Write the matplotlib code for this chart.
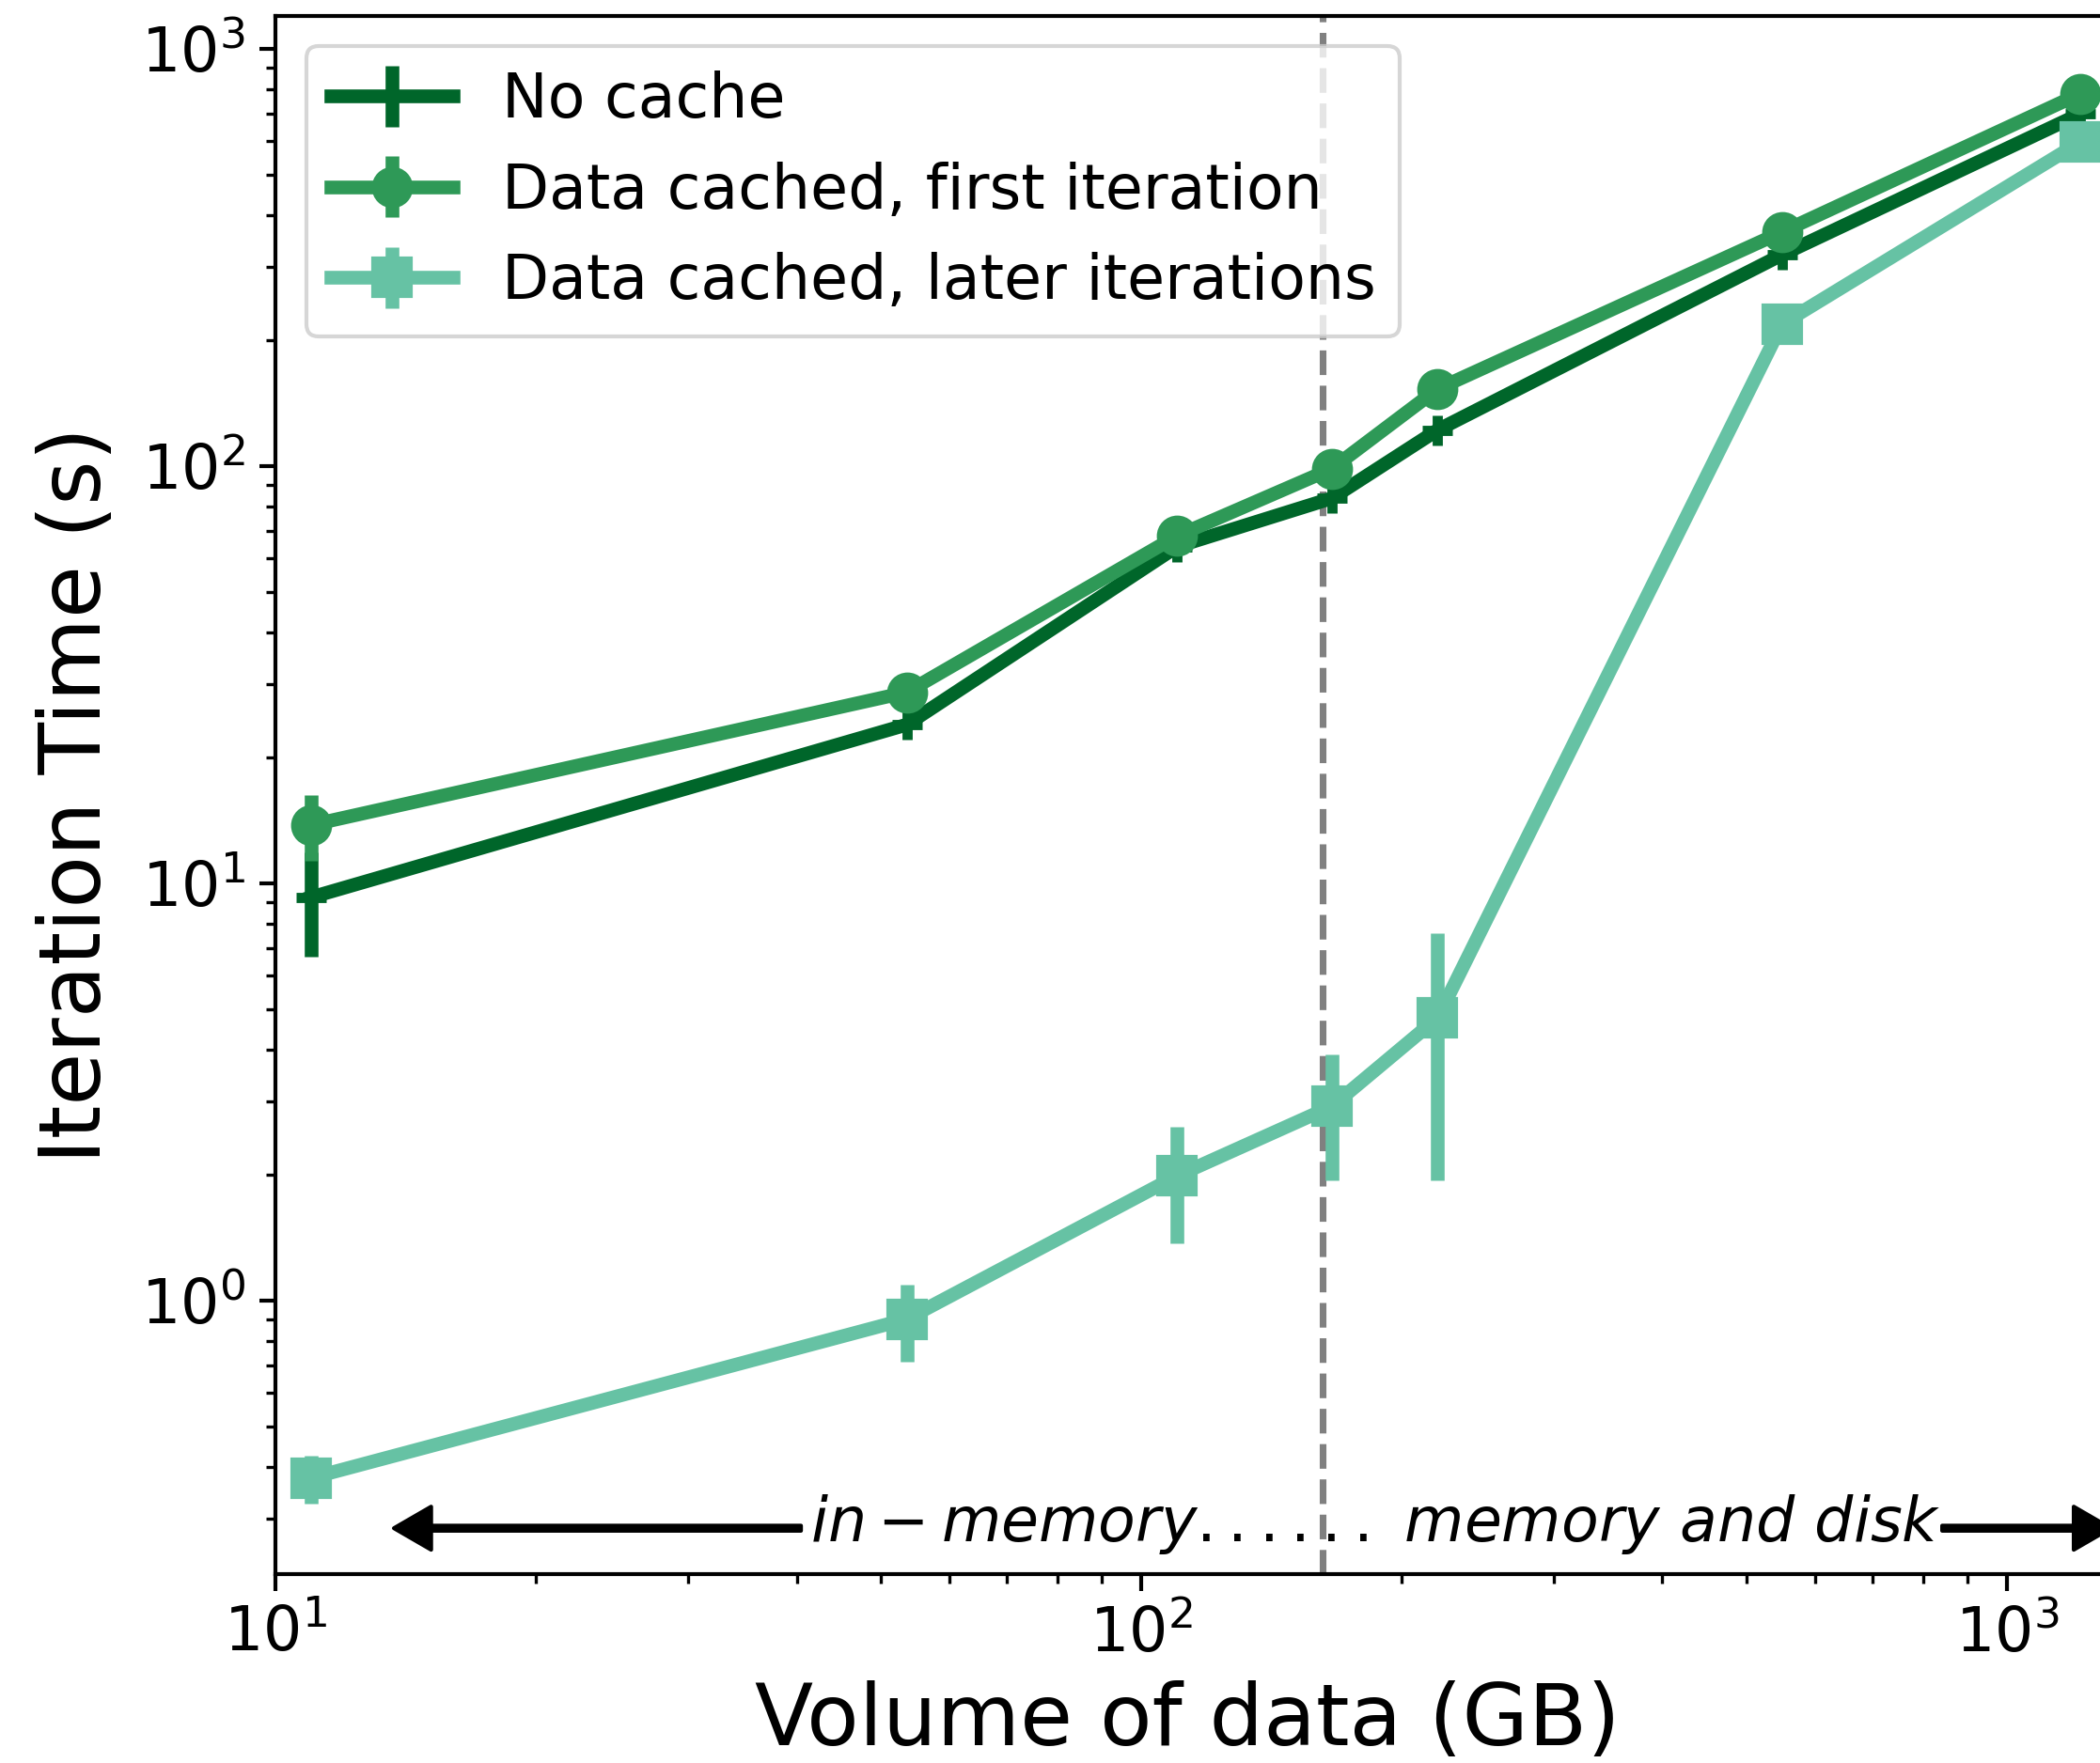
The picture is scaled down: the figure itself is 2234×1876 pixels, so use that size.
#!/usr/bin/env python3
import matplotlib
matplotlib.use("Agg")
import matplotlib.pyplot as plt

# data volume (GB) for each run
volume = [11, 53.6, 110, 166, 220, 550, 1215]

# mean iteration time (s) and spread
no_cache = [9.26, 24.0, 64.1, 83.7, 122, 321, 698]
no_cache_err = [2.6, 0, 0, 0, 0, 0, 0]

first_iter = [13.8, 28.7, 68.0, 98.5, 153, 364, 780]
first_iter_err = [2.5, 0, 0, 0, 0, 0, 0]

later_iter = [0.376, 0.903, 1.99, 2.92, 4.76, 219, 597]
later_iter_err = [0.05, 0.19, 0.62, 0.98, 2.82, 0, 0]

memory_limit = 162

labels = ["No cache", "Data cached, first iteration", "Data cached, later iterations"]
colors = ["#00662a", "#2e9957", "#66c2a4"]

FONT = 15.6

fig = plt.figure(figsize=(2234 / 300, 1876 / 300), dpi=300)
ax = fig.add_axes([0.1312, 0.1071, 0.8688, 0.884])

common = dict(lw=3.5, elinewidth=3.5, capsize=0)
ax.errorbar(volume, no_cache, yerr=no_cache_err, fmt="-+", color=colors[0],
            ms=7.5, mew=2.6, label=labels[0], **common)
ax.errorbar(volume, first_iter, yerr=first_iter_err, fmt="-o", color=colors[1],
            ms=9.5, label=labels[1], **common)
ax.errorbar(volume, later_iter, yerr=later_iter_err, fmt="-s", color=colors[2],
            ms=9.5, label=labels[2], **common)

ax.axvline(memory_limit, color="gray", ls="--", lw=1.7, zorder=1)

ax.set_xscale("log")
ax.set_yscale("log")
ax.set_xlim(10, 1281)
ax.set_ylim(0.221, 1200)

ax.set_xlabel("Volume of data (GB)", fontsize=21.8)
ax.set_ylabel("Iteration Time (s)", fontsize=21.8, labelpad=5.7)

ax.tick_params(which="major", length=4.2, width=1.0, labelsize=FONT)
ax.tick_params(which="minor", length=2.4, width=0.8)
for side in ("left", "bottom", "top"):
    ax.spines[side].set_linewidth(1.0)
ax.spines["right"].set_visible(False)

ax.legend(loc="upper left", fontsize=FONT)

# region annotation along the bottom
arrow = dict(facecolor="black", width=1.3, headwidth=11, headlength=9.5, shrink=0)
ax.annotate("", xy=(0.0649, 0.0295), xytext=(0.288, 0.0295),
            xycoords="axes fraction", arrowprops=arrow)
ax.annotate("", xy=(1.006, 0.0295), xytext=(0.9135, 0.0295),
            xycoords="axes fraction", arrowprops=arrow)
ax.text(0.603, 0.0211, r"$in-memory......\ memory\ and\ disk$",
        transform=ax.transAxes, ha="center", va="baseline", fontsize=FONT)

fig.savefig("out.png", dpi=300)
